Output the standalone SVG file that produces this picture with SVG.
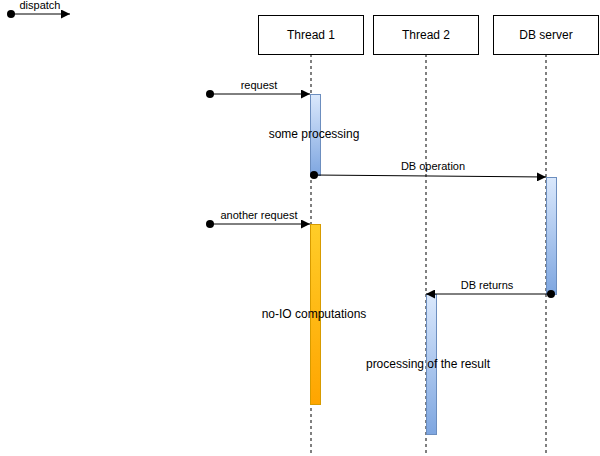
<svg xmlns="http://www.w3.org/2000/svg" width="600" height="456" viewBox="0 0 600 456">
<style>
.box{fill:#fff;stroke:#000;stroke-width:1}
.life{stroke:#808080;stroke-width:2;stroke-dasharray:3 3;fill:none}
.msg{stroke:#000;stroke-width:1;fill:none;marker-end:url(#arr)}
.dot{fill:#000}
.t{font-family:"Liberation Sans",Arial,sans-serif;fill:#000;text-anchor:middle}
.lbl{font-size:11px}
.big{font-size:12px}
</style>
<defs>
<marker id="arr" viewBox="0 0 10 10" refX="10" refY="5" markerWidth="9" markerHeight="9" markerUnits="userSpaceOnUse" orient="auto">
<path d="M0,0 L10,5 L0,10 Z" fill="#000"/>
</marker>
<linearGradient id="blue" x1="0" y1="0" x2="0" y2="1">
<stop offset="0" stop-color="#dae8fc"/>
<stop offset="1" stop-color="#7ea6e0"/>
</linearGradient>
<linearGradient id="orange" x1="0" y1="0" x2="0" y2="1">
<stop offset="0" stop-color="#ffcd28"/>
<stop offset="1" stop-color="#ffa500"/>
</linearGradient>
</defs>
<g id="lifelines">
<line class="life" x1="311" y1="54" x2="311" y2="456"/>
<line class="life" x1="426" y1="54" x2="426" y2="456"/>
<line class="life" x1="546" y1="54" x2="546" y2="456"/>
</g>
<g id="thread1">
<rect class="box" x="258.5" y="15.5" width="105" height="39"/>
<text class="t big" x="311" y="39">Thread 1</text>
</g>
<g id="thread2">
<rect class="box" x="373.5" y="15.5" width="105" height="39"/>
<text class="t big" x="426" y="39">Thread 2</text>
</g>
<g id="dbserver">
<rect class="box" x="493.5" y="15.5" width="105" height="39"/>
<text class="t big" x="546" y="39">DB server</text>
</g>
<g id="act-t1-a">
<rect x="310.5" y="94.5" width="10" height="81" fill="url(#blue)" stroke="#6c8ebf"/>
</g>
<g id="act-db">
<rect x="546.5" y="177.5" width="10" height="117" fill="url(#blue)" stroke="#6c8ebf"/>
</g>
<g id="act-t1-b">
<rect x="310.5" y="224.5" width="10" height="180" fill="url(#orange)" stroke="#d79b00"/>
</g>
<g id="act-t2">
<rect x="426.5" y="294.5" width="10" height="140" fill="url(#blue)" stroke="#6c8ebf"/>
</g>
<g id="connectors">
<circle class="dot" cx="11" cy="14" r="4"/>
<line class="msg" x1="11" y1="14" x2="70" y2="14"/>
<circle class="dot" cx="210" cy="94" r="4"/>
<line class="msg" x1="210" y1="94" x2="310" y2="94"/>
<circle class="dot" cx="314" cy="175" r="4"/>
<line class="msg" x1="314" y1="175" x2="546" y2="177"/>
<circle class="dot" cx="210" cy="224" r="4"/>
<line class="msg" x1="210" y1="224" x2="310" y2="224"/>
<circle class="dot" cx="551" cy="294" r="4"/>
<line class="msg" x1="551" y1="294" x2="426" y2="294"/>
</g>
<g id="labels">
<text class="t lbl" x="40" y="9">dispatch</text>
<text class="t lbl" x="259" y="89">request</text>
<text class="t lbl" x="433" y="170">DB operation</text>
<text class="t lbl" x="259" y="219">another request</text>
<text class="t lbl" x="487" y="289">DB returns</text>
<text class="t big" x="314" y="138">some processing</text>
<text class="t big" x="314" y="318">no-IO computations</text>
<text class="t big" x="428" y="368">processing of the result</text>
</g>
</svg>
